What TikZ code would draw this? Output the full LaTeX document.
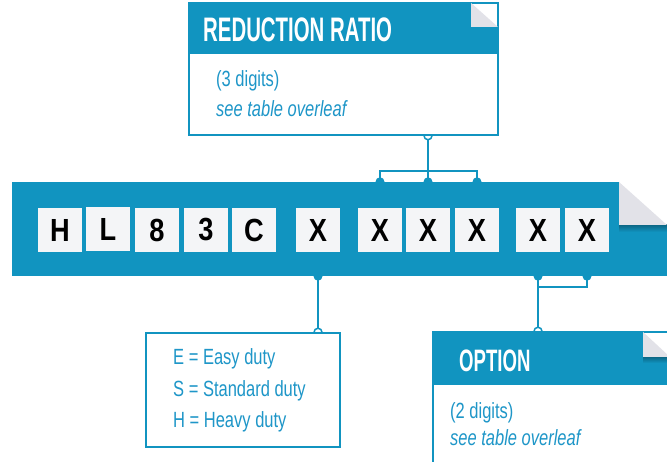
\documentclass[tikz,border=0pt]{standalone}
\usepackage{fontspec}
\usetikzlibrary{calc}
\setmainfont{Liberation Sans}
\newfontfamily\condfont[FakeStretch=0.75]{Liberation Sans}
\newfontfamily\headfont[FakeStretch=0.6]{Liberation Sans Bold}
\newfontfamily\letterfont[FakeStretch=0.85]{Liberation Sans Bold}
\pgfdeclarelayer{background}
\pgfsetlayers{background,main}
\definecolor{brandblue}{RGB}{17,148,192}
\definecolor{textblue}{RGB}{30,150,200}
\definecolor{boxgray}{RGB}{244,245,247}
\definecolor{foldgray}{RGB}{226,226,232}
\tikzset{
  letterbox/.style={fill=boxgray, minimum width=44pt, minimum height=44pt, inner sep=0pt,
    font=\letterfont\fontsize{32}{32}\selectfont, text=black},
  headtext/.style={anchor=base west, inner sep=0pt, text=white, font=\headfont\fontsize{34}{34}\selectfont},
  bodytext/.style={anchor=base west, inner sep=0pt, text=textblue, font=\condfont\fontsize{22}{22}\selectfont},
  italtext/.style={bodytext, font=\condfont\itshape\fontsize{22}{22}\selectfont},
  framebox/.style={draw=brandblue, line width=1.5pt, fill=white, inner sep=0pt},
  conn/.style={draw=brandblue, line width=2pt},
  fdot/.style={fill=brandblue},
  odot/.style={draw=brandblue, line width=1.5pt, fill=white},
}
\begin{document}
\begin{tikzpicture}[x=1pt,y=-1pt]
\clip (0,0) rectangle (667,462);

% ---- reduction ratio box
\node[framebox, minimum width=309pt, minimum height=132pt] (redbox) at (343.5,69) {};
\fill[brandblue] (189,3) -- (471,3) -- (471,27) -- (498,27) -- (498,54) -- (189,54) -- cycle;
\fill[foldgray] (471,3) -- (471,27) -- (498,27) -- cycle;
\node[headtext] (redtitle) at (203,42) {REDUCTION RATIO};
\node[bodytext] (redl1) at (216,87) {(3 digits)};
\node[italtext] (redl2) at (216,117) {see table overleaf};

% ---- main band
\node[fill=brandblue, minimum width=658pt, minimum height=94pt, inner sep=0pt] (band) at (341,229) {};
\fill[white] (619,182) rectangle (670,225);
\shade[top color=brandblue!70!black, bottom color=brandblue] (619,225) rectangle (670,232);
\fill[foldgray] (619,182) -- (619,225) -- (667,225) -- cycle;

\node[letterbox] (l1) at (60,230) {H};
\node[letterbox] (l2) at (108,229) {L};
\node[letterbox] (l3) at (157,230) {8};
\node[letterbox] (l4) at (206,230) {3};
\node[letterbox] (l5) at (254,230) {C};
\node[letterbox] (l6) at (318,230) {X};
\node[letterbox] (l7) at (380,230) {X};
\node[letterbox] (l8) at (428,230) {X};
\node[letterbox] (l9) at (477,230) {X};
\node[letterbox] (l10) at (538,230) {X};
\node[letterbox] (l11) at (587,230) {X};

% ---- duty box
\node[framebox, minimum width=194pt, minimum height=114pt] (dutybox) at (243,390) {};
\node[bodytext] (d1) at (173,365) {E = Easy duty};
\node[bodytext] (d2) at (173,396) {S = Standard duty};
\node[bodytext] (d3) at (173,427) {H = Heavy duty};

% ---- option box
\node[framebox, minimum width=240pt, minimum height=160pt] (optbox) at (553,412) {};
\fill[brandblue] (433,332) -- (643,332) -- (643,357) -- (672,357) -- (672,385) -- (433,385) -- cycle;
\shade[top color=brandblue!70!black, bottom color=brandblue] (643,357) rectangle (672,363);
\fill[foldgray] (643,332) -- (643,357) -- (670,357) -- cycle;
\node[headtext, font=\headfont\fontsize{31}{31}\selectfont] (opttitle) at (459,372) {OPTION};
\node[bodytext] (o1) at (450,418) {(2 digits)};
\node[italtext] (o2) at (450,445) {see table overleaf};

% ---- connectors
\begin{pgfonlayer}{background}
  \coordinate (redjoin) at ($(l8.center |- redbox.south)!0.76!(l8.center |- band.north)$);
  \path[conn] (l8.center |- redbox.south) -- (l8.center |- band.north);
  \path[conn] (l7.center |- band.north) |- (redjoin) -| (l9.center |- band.north);
  \fill[fdot] (l7.center |- band.north) circle (4.5pt);
  \fill[fdot] (l8.center |- band.north) circle (4.5pt);
  \fill[fdot] (l9.center |- band.north) circle (4.5pt);
  \path[odot] (l8.center |- redbox.south) circle (4pt);

  \path[conn] (l6.center |- band.south) -- (l6.center |- dutybox.north);
  \fill[fdot] (l6.center |- band.south) circle (4.5pt);
  \path[odot] (l6.center |- dutybox.north) circle (4pt);

  \coordinate (optjoin) at ($(l10.center |- band.south)+(0,11)$);
  \path[conn] (l10.center |- band.south) -- (l10.center |- optbox.north);
  \path[conn] (l11.center |- band.south) |- (optjoin);
  \fill[fdot] (l10.center |- band.south) circle (4.5pt);
  \fill[fdot] (l11.center |- band.south) circle (4.5pt);
  \path[odot] (l10.center |- optbox.north) circle (4pt);
\end{pgfonlayer}
\end{tikzpicture}
\end{document}
